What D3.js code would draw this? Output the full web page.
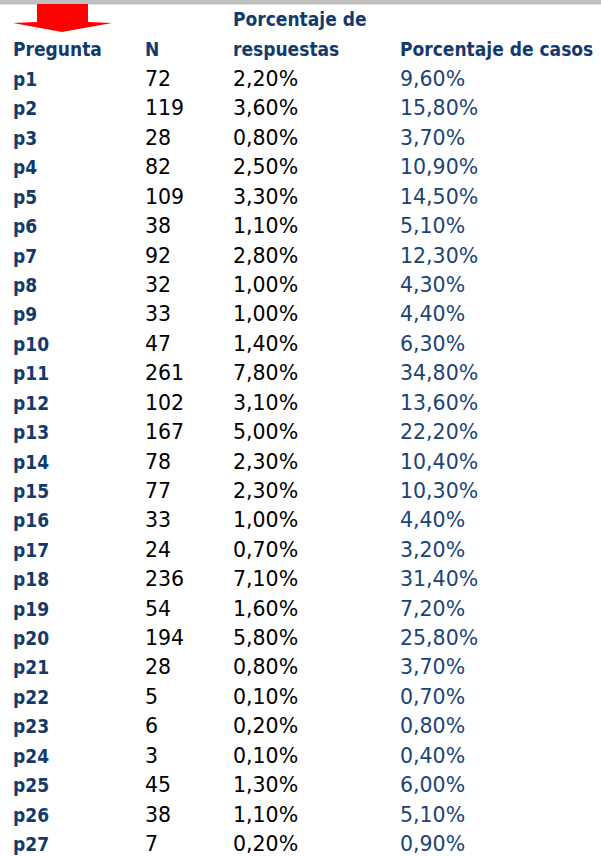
<!DOCTYPE html>
<html>
<head>
<meta charset="utf-8">
<script src="https://cdn.jsdelivr.net/npm/d3@7"></script>
<style>
  html, body { margin: 0; padding: 0; background: #fff; }
  svg { display: block; }
</style>
</head>
<body>
<svg></svg>
<script>
const width = 601
const height = 856

// datos de la tabla
const preguntas = ['p1','p2','p3','p4','p5','p6','p7','p8','p9','p10','p11','p12','p13','p14','p15','p16','p17','p18','p19','p20','p21','p22','p23','p24','p25','p26','p27']
const nValues = [72,119,28,82,109,38,92,32,33,47,261,102,167,78,77,33,24,236,54,194,28,5,6,3,45,38,7]
const pctRespuestas = [2.2,3.6,0.8,2.5,3.3,1.1,2.8,1.0,1.0,1.4,7.8,3.1,5.0,2.3,2.3,1.0,0.7,7.1,1.6,5.8,0.8,0.1,0.2,0.1,1.3,1.1,0.2]
const pctCasos = [9.6,15.8,3.7,10.9,14.5,5.1,12.3,4.3,4.4,6.3,34.8,13.6,22.2,10.4,10.3,4.4,3.2,31.4,7.2,25.8,3.7,0.7,0.8,0.4,6.0,5.1,0.9]
const headers = [
  {col: 'pregunta', lines: ['', 'Pregunta']},
  {col: 'n', lines: ['', 'N']},
  {col: 'resp', lines: ['Porcentaje de', 'respuestas']},
  {col: 'casos', lines: ['', 'Porcentaje de casos']}
]

const navy = '#133a6b'
const navyLight = '#1a4478'
const boldFont = '"DejaVu Sans Condensed", "DejaVu Sans", sans-serif'
const normalFont = '"DejaVu Sans", sans-serif'

const es = d3.formatLocale({decimal: ',', thousands: '.', grouping: [3], currency: ['', '€']})
const fmtPct = v => es.format('.2f')(v) + '%'

const svg = d3.select('svg').attr('width', width).attr('height', height)

// columnas
const x = d3.scaleOrdinal().domain(['pregunta', 'n', 'resp', 'casos']).range([13, 145, 233, 400])
// filas (línea base)
const y = d3.scalePoint().domain(preguntas).range([86, 851])

// barra gris superior
svg.append('rect').attr('x', 0).attr('y', 0).attr('width', width).attr('height', 4.5).attr('fill', '#c0c0c0')

// flecha roja
svg.append('path')
  .attr('d', 'M37,4 L88,4 L88,22 L112,23 L62,32 L13,23 L37,22 Z')
  .attr('fill', '#ff0000')

// encabezados
const hg = svg.append('g')
headers.forEach(h => {
  h.lines.forEach((t, i) => {
    if (!t) return
    hg.append('text')
      .attr('x', x(h.col))
      .attr('y', 26 + i * 30)
      .attr('font-family', boldFont)
      .attr('font-weight', 'bold')
      .attr('font-size', 19)
      .attr('fill', navy)
      .text(t)
  })
})

const rows = svg.append('g').selectAll('g').data(preguntas).enter().append('g')
  .attr('transform', d => `translate(0, ${y(d)})`)

rows.append('text')
  .attr('x', x('pregunta'))
  .attr('font-family', boldFont).attr('font-weight', 'bold').attr('font-size', 19)
  .attr('fill', navy)
  .text(d => d)

rows.append('text')
  .attr('x', x('n'))
  .attr('font-family', normalFont).attr('font-size', 20.5)
  .attr('fill', '#000')
  .text((d, i) => nValues[i])

rows.append('text')
  .attr('x', x('resp'))
  .attr('font-family', normalFont).attr('font-size', 20.5)
  .attr('fill', '#000')
  .text((d, i) => fmtPct(pctRespuestas[i]))

rows.append('text')
  .attr('x', x('casos'))
  .attr('font-family', normalFont).attr('font-size', 20.5)
  .attr('fill', navyLight)
  .text((d, i) => fmtPct(pctCasos[i]))
</script>
</body>
</html>
